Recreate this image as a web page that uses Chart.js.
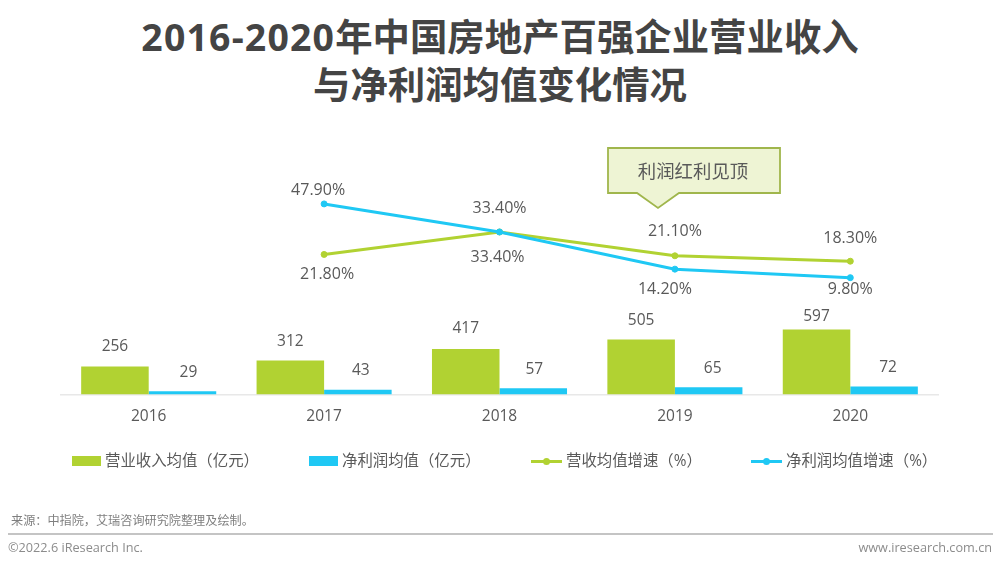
<!DOCTYPE html>
<html lang="zh">
<head>
<meta charset="utf-8">
<title>2016-2020年中国房地产百强企业营业收入与净利润均值变化情况</title>
<script src="https://cdn.jsdelivr.net/npm/chart.js@4"></script>
<style>
    html, body { margin: 0; padding: 0; background: #fff; }
    body { width: 1000px; height: 566px; position: relative; overflow: hidden; font-family: "Open Sans", "Noto Sans CJK SC", sans-serif; }
    canvas { position: absolute; left: 0; top: 0; }
    .title { position: absolute; left: 0; top: 13px; width: 1000px; text-align: center; font-size: 37.4px; line-height: 48px; font-weight: 700; color: #444; }
    .title span { letter-spacing: 1.2px; }
    .legend { position: absolute; left: 0; top: 450px; width: 1000px; height: 22px; }
    .legend div { position: absolute; top: 0; height: 22px; line-height: 22px; font-size: 15.4px; color: #595959; white-space: nowrap; }
    .legend i { position: absolute; display: block; }
    .source { position: absolute; left: 11px; top: 513px; font-size: 12.15px; line-height: 16px; color: #7f7f7f; }
    .rule { position: absolute; left: 8px; top: 533px; width: 985px; height: 2px; background: #c4c4c4; }
    .foot { position: absolute; top: 539px; font-size: 12.7px; line-height: 16px; color: #8c8c8c; }
    .callout { position: absolute; left: 0; top: 0; }
</style>
</head>
<body>
<div class="title"><span>2016-2020</span>年中国房地产百强企业营业收入<br>与净利润均值变化情况</div>
<canvas id="chart" width="1000" height="566"></canvas>
<svg class="callout" width="1000" height="566">
    <path d="M608 148 H780 V193 H679 L658 208 L637 193 H608 Z" fill="#eef4d4" stroke="#a0b64c" stroke-width="1.8"/>
    <text x="693" y="178" text-anchor="middle" font-size="18.4" fill="#595959" font-family="Noto Sans CJK SC">利润红利见顶</text>
</svg>
<div class="legend" id="legend"></div>
<div class="source">来源：中指院，艾瑞咨询研究院整理及绘制。</div>
<div class="rule"></div>
<div class="foot" style="left: 8px">©2022.6 iResearch Inc.</div>
<div class="foot" style="right: 8px">www.iresearch.com.cn</div>
<script>
const years = ['2016', '2017', '2018', '2019', '2020'];
const revenueAvg = [256, 312, 417, 505, 597];
const profitAvg = [29, 43, 57, 65, 72];
const revenueGrowth = [null, 21.8, 33.4, 21.1, 18.3];
const profitGrowth = [null, 47.9, 33.4, 14.2, 9.8];

const GREEN = '#b1d232';
const CYAN = '#1fc8f4';
const TEXT = '#595959';
const FONT = '"Open Sans", "Noto Sans CJK SC", sans-serif';

// label nudges from the mark, [dx, dy]
const labelShifts = [
    [[0, -20], [0, -19], [0, -20], [0, -19], [0, -13]],
    [[6, -19], [3, -19], [1, -19], [4, -19], [4, -19]],
    [null, [3, 20], [0, -24], [0, -24], [0, -23]],
    [null, [-6, -13], [-2, 25], [-10, 20], [0, 12]]
];

// left edge of each legend entry
const legendLefts = [72, 309, 531, 751];

const valueLabels = {
    id: 'valueLabels',
    afterDatasetsDraw(chart) {
        const ctx = chart.ctx;
        ctx.save();
        ctx.fillStyle = TEXT;
        ctx.textAlign = 'center';
        ctx.textBaseline = 'middle';
        chart.data.datasets.forEach((ds, i) => {
            const isLine = ds.type === 'line';
            ctx.font = (isLine ? 16 : 15.5) + 'px ' + FONT;
            chart.getDatasetMeta(i).data.forEach((el, j) => {
                if (ds.data[j] === null) return;
                const text = isLine ? ds.data[j].toFixed(2) + '%' : String(ds.data[j]);
                const shift = labelShifts[i][j];
                ctx.fillText(text, el.x + shift[0], el.y + shift[1]);
            });
        });
        ctx.restore();
    }
};

const chart = new Chart(document.getElementById('chart').getContext('2d'), {
    data: {
        labels: years,
        datasets: [
            {
                type: 'bar',
                label: '营业收入均值（亿元）',
                data: revenueAvg,
                backgroundColor: GREEN,
                yAxisID: 'yValue',
                order: 2
            },
            {
                type: 'bar',
                label: '净利润均值（亿元）',
                data: profitAvg,
                backgroundColor: CYAN,
                yAxisID: 'yValue',
                order: 2
            },
            {
                type: 'line',
                label: '营收均值增速（%）',
                data: revenueGrowth,
                borderColor: GREEN,
                backgroundColor: GREEN,
                borderWidth: 3,
                pointRadius: 3,
                pointBorderWidth: 1,
                tension: 0,
                yAxisID: 'yRate',
                order: 1
            },
            {
                type: 'line',
                label: '净利润均值增速（%）',
                data: profitGrowth,
                borderColor: CYAN,
                backgroundColor: CYAN,
                borderWidth: 3,
                pointRadius: 3,
                pointBorderWidth: 1,
                tension: 0,
                yAxisID: 'yRate',
                order: 0
            }
        ]
    },
    options: {
        responsive: false,
        animation: false,
        layout: { padding: { left: 61, right: 62, top: 141, bottom: 127 } },
        datasets: { bar: { barPercentage: 1, categoryPercentage: 0.77 } },
        scales: {
            x: {
                grid: { display: false, drawTicks: false },
                border: { color: '#e8e8e8', width: 1.5 },
                ticks: { color: TEXT, font: { family: FONT, size: 15.5 }, padding: 13 }
            },
            yValue: { display: false, min: 0, max: 2330 },
            yRate: { display: false, min: -50.5, max: 80.4 }
        },
        plugins: {
            tooltip: { enabled: false },
            legend: { display: false }
        }
    },
    plugins: [valueLabels]
});

// legend sits outside the canvas, built from the datasets
const legendEl = document.getElementById('legend');
chart.data.datasets.forEach((ds, i) => {
    const item = document.createElement('div');
    const isLine = ds.type === 'line';
    const w = isLine ? 31 : 29;
    item.style.left = legendLefts[i] + 'px';
    item.style.paddingLeft = (w + 4) + 'px';
    item.textContent = ds.label;
    const bar = document.createElement('i');
    bar.style.cssText = 'left:0;width:' + w + 'px;background:' + ds.backgroundColor + ';'
        + (isLine ? 'top:10px;height:3px;' : 'top:6px;height:10px;');
    item.appendChild(bar);
    if (isLine) {
        const dot = document.createElement('i');
        dot.style.cssText = 'left:12px;top:8px;width:7px;height:7px;border-radius:50%;background:' + ds.backgroundColor;
        item.appendChild(dot);
    }
    legendEl.appendChild(item);
});
</script>
</body>
</html>
